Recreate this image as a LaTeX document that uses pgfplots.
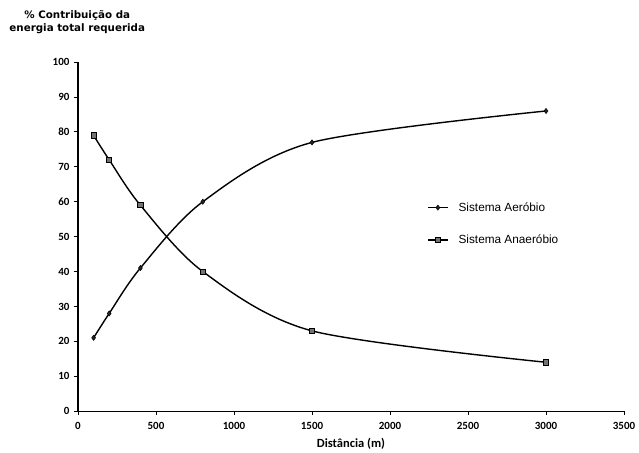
\documentclass[border=0pt]{standalone}
\usepackage{fontspec}
\setmainfont{Liberation Sans}
\newfontfamily\titlefont{DejaVu Sans}
\newfontfamily\calfont{Carlito}
\usepackage{pgfplots}
\pgfplotsset{compat=1.18}
\begin{document}
\begin{tikzpicture}
\begin{axis}[
  scale only axis,
  width=546pt, height=349pt,
  xmin=0, xmax=3500, ymin=0, ymax=100,
  xtick={0,500,...,3500}, ytick={0,10,...,100},
  axis lines*=left,
  axis line style={-, line width=1.2pt},
  tick align=outside,
  major tick length=4pt,
  tick style={line width=0.9pt, black},
  /pgf/number format/assume math mode=true,
  /pgf/number format/1000 sep={},
  ticklabel style={font=\calfont\bfseries\fontsize{11}{12}\selectfont},
  xticklabel style={yshift=-3.5pt},
  yticklabel style={xshift=-1pt},
  xlabel={\calfont\bfseries\fontsize{12.5}{14}\selectfont Distância (m)},
  xlabel style={yshift=-2pt},
  clip=false,
  legend style={at={(axis cs:2237,53.7)}, anchor=west, draw=none, fill=none,
    font=\fontsize{11.8}{13}\selectfont, row sep=18pt,
    legend cell align=left, inner sep=0pt,
    /tikz/every odd column/.append style={column sep=8pt}},
  legend image code/.code={\draw[mark repeat=2,mark phase=2,#1] plot coordinates {(0pt,0pt)(10pt,0pt)(20pt,0pt)};},
]
\path (axis cs:-500,-11.7) rectangle (axis cs:3596,117.8);
\addplot[black, line width=1.4pt, smooth, mark=diamond*, mark size=2.6pt, mark options={fill=black!85, line width=0.5pt}]
  coordinates {(100,21)(200,28)(400,41)(800,60)(1500,77)(3000,86)};
\addlegendentry{Sistema Aeróbio}
\addplot[black, line width=1.4pt, smooth, mark=square*, mark size=2.6pt, mark options={fill=black!55, line width=0.7pt}]
  coordinates {(100,79)(200,72)(400,59)(800,40)(1500,23)(3000,14)};
\addlegendentry{Sistema Anaeróbio}
\node[font=\titlefont\bfseries\fontsize{10.3}{13}\selectfont, align=center] at (axis cs:-5,111.5) {\% Contribuição da\\energia total requerida};
\end{axis}
\end{tikzpicture}
\end{document}
